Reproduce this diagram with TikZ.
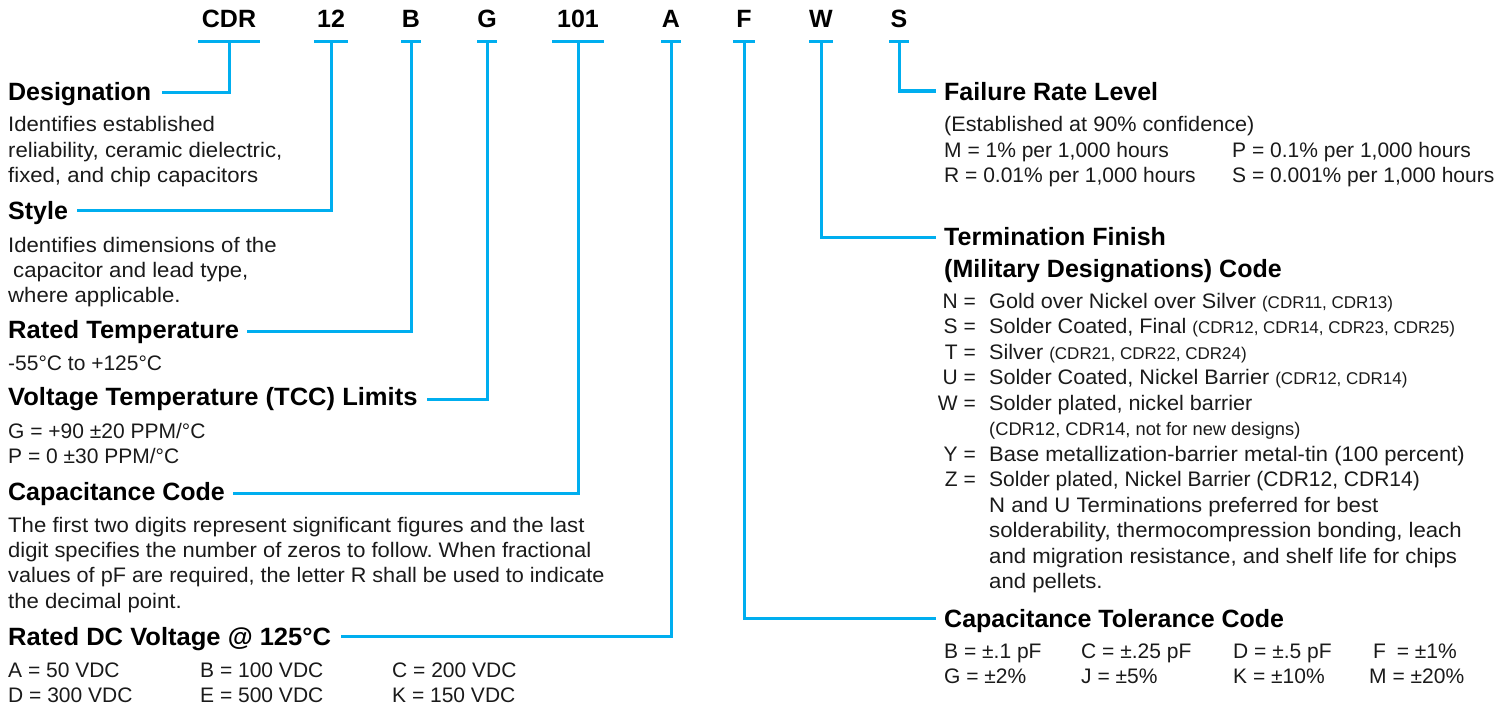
\documentclass[tikz,border=0pt]{standalone}
\usepackage{fontspec}
\setmainfont{Liberation Sans}
\newfontfamily\widef{Liberation Sans}[FakeStretch=1.055]
\newfontfamily\widem{Liberation Sans}[FakeStretch=1.03]
\newfontfamily\widen{Liberation Sans}[FakeStretch=1.045]
\newfontfamily\wideb{Liberation Sans}[FakeStretch=1.022]
\definecolor{lc}{RGB}{0,174,239}
\definecolor{tx}{RGB}{26,26,26}
\newcommand\smf{\rmfamily\fontsize{17}{20}\selectfont}
\newcommand\mdf{\rmfamily\fontsize{18.3}{22}\selectfont}
\frenchspacing
\begin{document}
\begin{tikzpicture}[x=1pt,y=-1pt,
 code/.style={font=\bfseries\fontsize{25}{30}\selectfont, anchor=base, inner sep=0pt, text=black},
 head/.style={font=\bfseries\fontsize{25}{30}\selectfont, anchor=base west, inner sep=0pt, text=black},
 headw/.style={head, font=\wideb\bfseries\fontsize{25}{30}\selectfont},
 body/.style={font=\fontsize{21}{25}\selectfont, anchor=base west, inner sep=0pt, text=tx},
 prose/.style={body, font=\widef\fontsize{21}{25}\selectfont},
 prosem/.style={body, font=\widem\fontsize{21}{25}\selectfont},
 prosen/.style={body, font=\widen\fontsize{21}{25}\selectfont},
 lett/.style={font=\fontsize{21}{25}\selectfont, anchor=base east, inner sep=0pt, text=tx},
 link/.style={draw=lc, line width=3pt},
]
\useasboundingbox (0,0) rectangle (1505,709);
% codes
\node[code] (cCDR) at (229,28) {CDR};
\node[code] (c12) at (331,28) {12};
\node[code] (cB) at (411,28) {B};
\node[code] (cG) at (487,28) {G};
\node[code] (c101) at (578,28) {101};
\node[code] (cA) at (671,28) {A};
\node[code] (cF) at (744,28) {F};
\node[code] (cW) at (821,28) {W};
\node[code] (cS) at (899,28) {S};
\coordinate (kCDR) at (229,42);
\coordinate (k12) at (331,42);
\coordinate (kB) at (411,42);
\coordinate (kG) at (487,42);
\coordinate (k101) at (578,42);
\coordinate (kA) at (671,42);
\coordinate (kF) at (744,42);
\coordinate (kW) at (821,42);
\coordinate (kS) at (899,42);
\draw[link] ([xshift=-31pt]kCDR) -- ([xshift=31pt]kCDR);
\draw[link] ([xshift=-17pt]k12) -- ([xshift=17pt]k12);
\draw[link] ([xshift=-10pt]kB) -- ([xshift=10pt]kB);
\draw[link] ([xshift=-10pt]kG) -- ([xshift=10pt]kG);
\draw[link] ([xshift=-26pt]k101) -- ([xshift=26pt]k101);
\draw[link] ([xshift=-10pt]kA) -- ([xshift=10pt]kA);
\draw[link] ([xshift=-11pt]kF) -- ([xshift=11pt]kF);
\draw[link] ([xshift=-12pt]kW) -- ([xshift=12pt]kW);
\draw[link] ([xshift=-10pt]kS) -- ([xshift=10pt]kS);
% headings
\node[head] (hDes) at (8,100) {Designation};
\node[head] (hSty) at (8,219) {Style};
\node[headw] (hRT) at (8,338) {Rated Temperature};
\node[headw] (hVT) at (8,405) {Voltage Temperature (TCC) Limits};
\node[head] (hCC) at (8,500) {Capacitance Code};
\node[headw] (hDC) at (8,645) {Rated DC Voltage @ 125°C};
\node[head] (hFR) at (944,100) {Failure Rate Level};
\node[head] (hTF) at (944,245) {Termination Finish};
\node[head] (hTF2) at (944,277) {(Military Designations) Code};
\node[head] (hCT) at (944,627) {Capacitance Tolerance Code};
% connectors
\draw[link] (kCDR) |- ([xshift=11pt,yshift=8pt]hDes.base east);
\draw[link] (k12) |- ([xshift=9pt,yshift=9pt]hSty.base east);
\draw[link] (kB) |- ([xshift=8pt,yshift=7pt]hRT.base east);
\draw[link] (kG) |- ([xshift=9pt,yshift=6pt]hVT.base east);
\draw[link] (k101) |- ([xshift=8pt,yshift=7pt]hCC.base east);
\draw[link] (kA) |- ([xshift=10pt,yshift=9pt]hDC.base east);
\draw[link] (kS) |- ([xshift=-8pt,yshift=9pt]hFR.base west);
\draw[link] (kW) |- ([xshift=-8pt,yshift=8pt]hTF.base west);
\draw[link] (kF) |- ([xshift=-8pt,yshift=9pt]hCT.base west);
% left body
\node[prose] (d1) at (8,131) {Identifies established};
\node[prose] (d2) at (8,157) {reliability, ceramic dielectric,};
\node[prose] (d3) at (8,182) {fixed, and chip capacitors};
\node[prose] (s1) at (8,252) {Identifies dimensions of the};
\node[prose] (s2) at (8,277) {\hspace{5pt}capacitor and lead type,};
\node[prose] (s3) at (8,302) {where applicable.};
\node[body] (t1) at (8,370) {-55°C to +125°C};
\node[body] (v1) at (8,438) {G = +90 ±20 PPM/°C};
\node[body] (v2) at (8,463) {P = 0 ±30 PPM/°C};
\node[prose] (p1) at (8,532) {The first two digits represent significant figures and the last};
\node[prosen] (p2) at (8,557) {digit specifies the number of zeros to follow. When fractional};
\node[prosem] (p3) at (8,582) {values of pF are required, the letter R shall be used to indicate};
\node[prose] (p4) at (8,608) {the decimal point.};
\node[body] (r1) at (8,677) {A = 50 VDC};
\node[body] (r2) at (200,677) {B = 100 VDC};
\node[body] (r3) at (392,677) {C = 200 VDC};
\node[body] (r4) at (8,702) {D = 300 VDC};
\node[body] (r5) at (200,702) {E = 500 VDC};
\node[body] (r6) at (392,702) {K = 150 VDC};
% right body
\node[prosem] (f1) at (944,131) {(Established at 90\% confidence)};
\node[body] (f2) at (944,157) {M = 1\% per 1,000 hours};
\node[body] (f3) at (1232,157) {P = 0.1\% per 1,000 hours};
\node[body] (f4) at (944,182) {R = 0.01\% per 1,000 hours};
\node[body] (f5) at (1232,182) {S = 0.001\% per 1,000 hours};
\node[lett] (lN) at (976,308) {N =};
\node[prosem] (tN) at (989,308) {Gold over Nickel over Silver {\smf(CDR11, CDR13)}};
\node[lett] (lS) at (976,333.5) {S =};
\node[prosem] (tS) at (989,333.5) {Solder Coated, Final {\smf(CDR12, CDR14, CDR23, CDR25)}};
\node[lett] (lT) at (976,359) {T =};
\node[prosem] (tT) at (989,359) {Silver {\smf(CDR21, CDR22, CDR24)}};
\node[lett] (lU) at (976,384.5) {U =};
\node[prosem] (tU) at (989,384.5) {Solder Coated, Nickel Barrier {\smf(CDR12, CDR14)}};
\node[lett] (lW) at (976,410) {W =};
\node[prosem] (tW) at (989,410) {Solder plated, nickel barrier};
\node[body] (tW2) at (989,435.5) {\mdf(CDR12, CDR14, not for new designs)};
\node[lett] (lY) at (976,461) {Y =};
\node[prosen] (tY) at (989,461) {Base metallization-barrier metal-tin (100 percent)};
\node[lett] (lZ) at (976,486.5) {Z =};
\node[body] (tZ) at (989,486.5) {Solder plated, Nickel Barrier (CDR12, CDR14)};
\node[prose] (n1) at (989,512) {N and U Terminations preferred for best};
\node[prose] (n2) at (989,537.5) {solderability, thermocompression bonding, leach};
\node[prose] (n3) at (989,563) {and migration resistance, and shelf life for chips};
\node[prose] (n4) at (989,588.5) {and pellets.};
\node[body] (g1) at (944,658) {B = ±.1 pF};
\node[body] (g2) at (1081,658) {C = ±.25 pF};
\node[body] (g3) at (1233,658) {D = ±.5 pF};
\node[body] (g4) at (1373,658) {F\hspace{5pt} = ±1\%};
\node[body] (g5) at (944,683) {G = ±2\%};
\node[body] (g6) at (1081,683) {J = ±5\%};
\node[body] (g7) at (1233,683) {K = ±10\%};
\node[body] (g8) at (1369,683) {M = ±20\%};
\end{tikzpicture}
\end{document}
